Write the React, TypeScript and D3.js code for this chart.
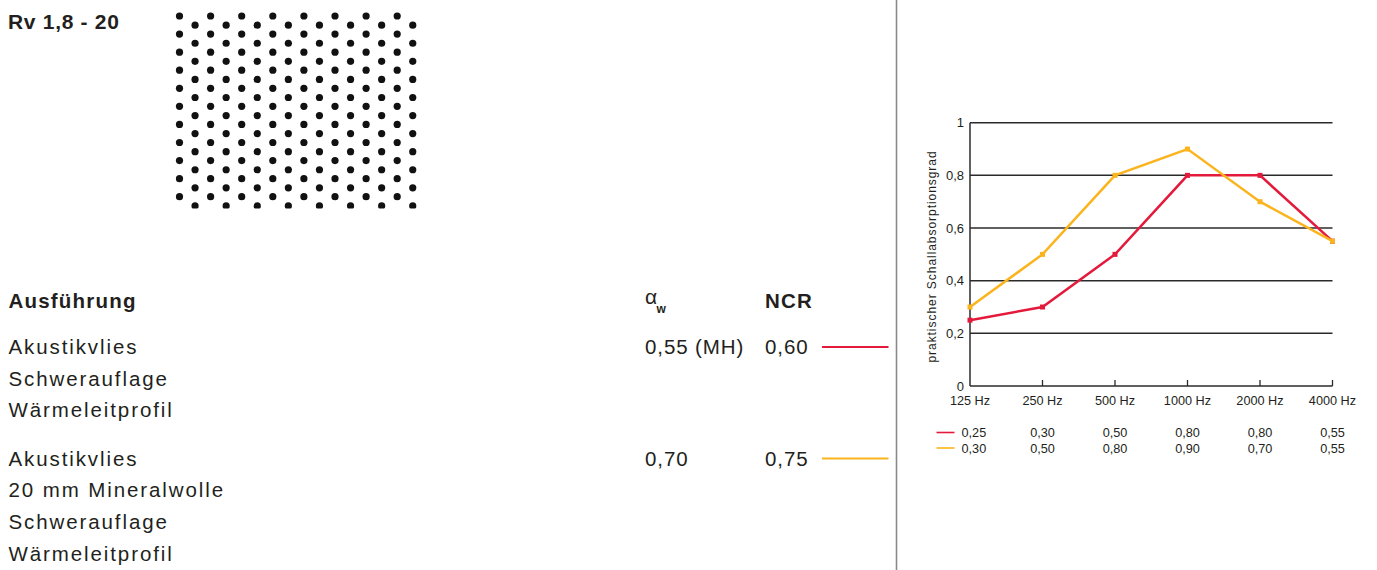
import React from 'react';
import * as d3 from 'd3';

// ---------- data ----------
const title = 'Rv 1,8 - 20';
const categories = ['125 Hz', '250 Hz', '500 Hz', '1000 Hz', '2000 Hz', '4000 Hz'];
const seriesA = [0.25, 0.30, 0.50, 0.80, 0.80, 0.55];
const seriesB = [0.30, 0.50, 0.80, 0.90, 0.70, 0.55];
const yTicks = [0, 0.2, 0.4, 0.6, 0.8, 1];
const yTitle = 'praktischer Schallabsorptionsgrad';
const variantA = ['Akustikvlies', 'Schwerauflage', 'Wärmeleitprofil'];
const variantB = ['Akustikvlies', '20 mm Mineralwolle', 'Schwerauflage', 'Wärmeleitprofil'];
const alphaW = ['0,55 (MH)', '0,70'];
const ncr = ['0,60', '0,75'];

const COLORS = ['#e41a3c', '#fbb41e'];

const locale = d3.formatLocale({ decimal: ',', thousands: '.', grouping: [3], currency: ['', ''] });
const fmtTick = locale.format('~g');
const fmtVal = locale.format('.2f');

export default function App() {
  const W = 1377, H = 570;
  const x = d3.scalePoint<string>().domain(categories).range([970, 1332.5]);
  const y = d3.scaleLinear().domain([0, 1]).range([386, 122.7]);
  const series = [seriesA, seriesB];
  const line = d3.line<number>().x((_, i) => x(categories[i])!).y(d => y(d));

  // perforation pattern (decorative)
  const cols = d3.range(16);
  const rowsIdx = d3.range(11);
  const dots: { cx: number; cy: number }[] = [];
  cols.forEach(c => rowsIdx.forEach(r => dots.push({ cx: 179.5 + c * 15.55, cy: (c % 2 === 0 ? 16 : 25.2) + r * 18.07 })));

  const leftFont = '"Liberation Sans", Arial, Helvetica, sans-serif';
  const textCol = '#231f20';
  const bodyStyle = { fontFamily: leftFont, fontSize: 20.5, letterSpacing: 1.9, fill: textCol } as const;
  const boldStyle = { fontFamily: leftFont, fontSize: 20.5, letterSpacing: 1.2, fontWeight: 700, fill: textCol } as const;

  const lineH = 31.7;
  const baseA = 354;
  const baseB = 465.5;

  return (
    <svg width={W} height={H} style={{ position: 'absolute', left: 0, top: 0, background: '#fff' }}>
      <rect x={0} y={0} width={W} height={H} fill="#fff" />
      {/* title */}
      <text x={8} y={28.5} style={{ fontFamily: leftFont, fontSize: 21, fontWeight: 700, letterSpacing: 0.7, fill: textCol }}>{title}</text>

      {/* perforation */}
      <defs>
        <clipPath id="perfClip">
          <rect x={170} y={8} width={250} height={200.5} />
        </clipPath>
      </defs>
      <g clipPath="url(#perfClip)">
        {dots.map((d, i) => <circle key={i} cx={d.cx} cy={d.cy} r={3.6} fill="#111" />)}
      </g>

      {/* table header */}
      <text x={8.5} y={307.5} style={boldStyle}>Ausführung</text>
      <text x={645} y={304} style={{ fontFamily: leftFont, fontSize: 21, fill: textCol }}>α</text>
      <text x={656.5} y=  {313} style={{ fontFamily: leftFont, fontSize: 12, fontWeight: 700, fill: textCol }}>w</text>
      <text x={765} y={307.5} style={boldStyle}>NCR</text>

      {/* rows */}
      {variantA.map((t, i) => <text key={'a' + i} x={8.5} y={baseA + i * lineH} style={bodyStyle}>{t}</text>)}
      {variantB.map((t, i) => <text key={'b' + i} x={8.5} y={baseB + i * lineH} style={bodyStyle}>{t}</text>)}
      {[baseA, baseB].map((b, i) => (
        <g key={'v' + i}>
          <text x={645} y={b} style={{ ...bodyStyle, letterSpacing: 0.9 }}>{alphaW[i]}</text>
          <text x={765} y={b} style={{ ...bodyStyle, letterSpacing: 0.9 }}>{ncr[i]}</text>
          <line x1={822} x2={888.5} y1={b - 7} y2={b - 7} stroke={COLORS[i]} strokeWidth={2.2} />
        </g>
      ))}

      {/* divider */}
      <line x1={896.5} x2={896.5} y1={0} y2={H} stroke="#8a8a8a" strokeWidth={1.6} />

      {/* chart */}
      <g style={{ fontFamily: leftFont, fill: '#231f20' }}>
        {yTicks.filter(t => t > 0).map(t => (
          <line key={'g' + t} x1={970} x2={1332.5} y1={y(t)} y2={y(t)} stroke="#2b2b2b" strokeWidth={1.5} />
        ))}
        <line x1={970} x2={970} y1={y(0)} y2={y(1)} stroke="#2b2b2b" strokeWidth={1.5} />
        <line x1={970} x2={1332.5} y1={y(0)} y2={y(0)} stroke="#2b2b2b" strokeWidth={1.5} />
        {categories.slice(1).map(c => (
          <line key={'t' + c} x1={x(c)} x2={x(c)} y1={y(0)} y2={y(0) - 6} stroke="#2b2b2b" strokeWidth={1.3} />
        ))}
        {yTicks.map(t => (
          <text key={'yl' + t} x={964} y={y(t)} dy="0.36em" textAnchor="end" style={{ fontSize: 13, fill: '#231f20' }}>{fmtTick(t)}</text>
        ))}
        {categories.map(c => (
          <text key={'xl' + c} x={x(c)} y={405} textAnchor="middle" style={{ fontSize: 12.7, fill: '#231f20' }}>{c}</text>
        ))}
        <text transform="translate(935.5,256.5) rotate(-90)" textAnchor="middle" style={{ fontSize: 12, letterSpacing: 0.95, fill: '#231f20' }}>{yTitle}</text>

        {series.map((s, si) => (
          <g key={'s' + si}>
            <path d={line(s)!} fill="none" stroke={COLORS[si]} strokeWidth={2.5} strokeLinejoin="miter" />
            {s.map((v, i) => (
              <rect key={i} x={x(categories[i])! - 2.5} y={y(v) - 2.5} width={5} height={5} fill={COLORS[si]} />
            ))}
          </g>
        ))}

        {/* value table under chart */}
        {series.map((s, si) => {
          const by = 437 + si * 15.5;
          return (
            <g key={'lv' + si}>
              <line x1={936.5} x2={954.5} y1={by - 4.5} y2={by - 4.5} stroke={COLORS[si]} strokeWidth={1.6} />
              {s.map((v, i) => (
                i === 0
                  ? <text key={i} x={961.5} y={by} style={{ fontSize: 12.7, fill: '#231f20' }}>{fmtVal(v)}</text>
                  : <text key={i} x={x(categories[i])} y={by} textAnchor="middle" style={{ fontSize: 12.7, fill: '#231f20' }}>{fmtVal(v)}</text>
              ))}
            </g>
          );
        })}
      </g>
    </svg>
  );
}
